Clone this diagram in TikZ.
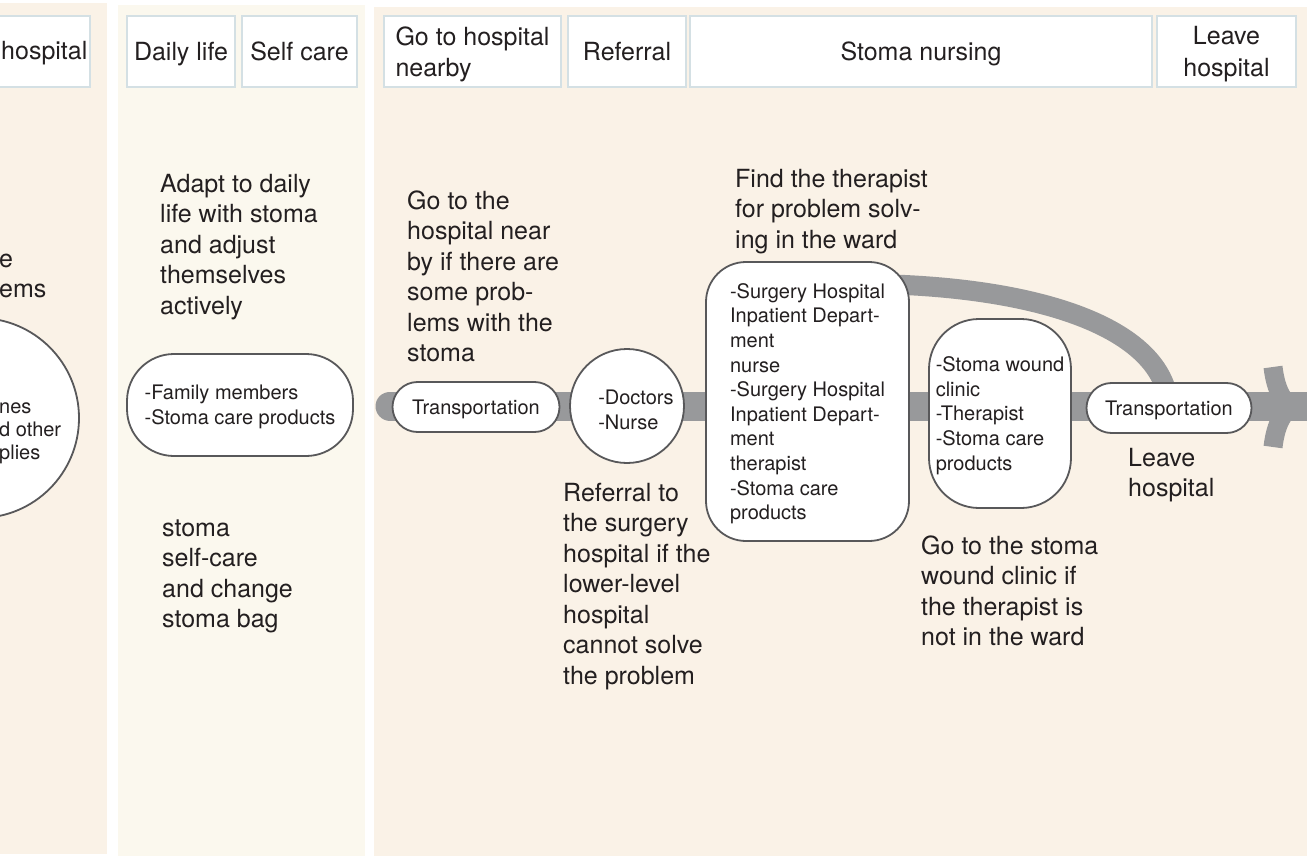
\documentclass[tikz,border=0pt]{standalone}
\usepackage{fontspec}
\setmainfont{TeX Gyre Heros}
\usetikzlibrary{shapes.geometric}

\definecolor{peach}{RGB}{250,242,231}
\definecolor{cream}{RGB}{251,248,238}
\definecolor{hdrline}{RGB}{212,224,228}
\definecolor{nodeline}{RGB}{88,88,90}
\definecolor{bandgray}{RGB}{152,153,155}
\definecolor{inkcol}{RGB}{35,31,32}

\newcommand{\bigtxt}{\fontsize{25}{30.5}\selectfont}
\newcommand{\hdrtxt}{\fontsize{25}{31.5}\selectfont}
\newcommand{\smalltxt}{\fontsize{20}{24.6}\selectfont}

\pgfdeclarelayer{bg}
\pgfsetlayers{bg,main}

\tikzset{
  hdr/.style={draw=hdrline, line width=1.6pt, fill=white, inner sep=0pt,
    minimum height=71, font=\hdrtxt, text=inkcol, text depth=0pt},
  stage/.style={draw=nodeline, line width=1.8pt, fill=white, inner sep=0pt,
    font=\smalltxt, text=inkcol, align=left, text depth=0pt},
  % multi-line paragraphs are placed by the baseline of their last line
  para/.style={anchor=base west, align=left, inner sep=0pt, font=\bigtxt, text=inkcol},
  flow/.style={draw=bandgray, line width=29pt},
  loopflow/.style={draw=bandgray, line width=20pt},
}

\begin{document}
\begin{tikzpicture}[x=1pt,y=-1pt]
\useasboundingbox (0,0) rectangle (1307,856);
\clip (0,0) rectangle (1307,856);

% column backgrounds and the main flow band
\begin{pgfonlayer}{bg}
  \fill[white] (0,0) rectangle (1307,856);
  \fill[peach] (0,3) rectangle (107,854);
  \fill[cream] (118,5) rectangle (365,856);
  \fill[peach] (374,7) rectangle (1307,856);
  \coordinate (bandS) at (390,406);
  \coordinate (bandE) at (1307,406);
  \draw[flow, line cap=round] (bandS) -- (bandE);
  % chevron at the end of the flow
  \draw[draw=bandgray, line width=19pt]
    (1273,367) .. controls (1276,392) and (1284,402) .. (1291,407)
    .. controls (1284,412) and (1276,422) .. (1273,447);
\end{pgfonlayer}

% header boxes
\node[hdr, minimum width=110] (h0) at (35,51.5) {};
\node[anchor=base west, inner sep=0pt, font=\hdrtxt, text=inkcol] (h0t) at (1,60) {hospital};
\node[hdr, minimum width=108] (h1) at (181,51.5) {Daily life};
\node[hdr, minimum width=115] (h2) at (299.5,51.5) {Self care};
\node[hdr, minimum width=177, align=left] (h3) at (472.5,51.5) {Go to hospital\\nearby};
\node[hdr, minimum width=118] (h4) at (627,51.5) {Referral};
\node[hdr, minimum width=462] (h5) at (921,51.5) {Stoma nursing};
\node[hdr, minimum width=139, align=center] (h6) at (1226.5,51.5) {Leave\\hospital};

% first column (cut at the left edge)
\node[para] (p0) at (-1,297.5) {e\\ems};
\node[stage, circle, minimum size=200] (c0) at (-21,418) {};
\node[anchor=base west, align=left, inner sep=0pt, font={\fontsize{20}{23}\selectfont}, text=inkcol] (c0t) at (-1,459) {nes\\d other\\plies};

% daily life / self care
\node[para] (pAdapt) at (160,314) {Adapt to daily\\life with stoma\\and adjust\\themselves\\actively};
\node[stage, rounded corners=47, minimum width=226, minimum height=102] (fam) at (240,405) {-Family members\\-Stoma care products};
\node[para] (pSelf) at (162,627.5) {stoma\\self-care\\and change\\stoma bag};

% hospital stages
\node[para] (pGo) at (407,361.5) {Go to the\\hospital near\\by if there are\\some prob-\\lems with the\\stoma};
\node[stage, rounded corners=25, minimum width=167, minimum height=50] (trans1) at (476,407) {Transportation};

\node[stage, circle, minimum size=114] (doc) at (627,406) {};
\node[align=left, inner sep=0pt, font=\smalltxt, text=inkcol] (docT) at (636,410) {-Doctors\\-Nurse};
\node[para] (pRef) at (563,684) {Referral to\\the surgery\\hospital if the\\lower-level\\hospital\\cannot solve\\the problem};

\node[para] (pFind) at (735,248) {Find the therapist\\for problem solv-\\ing in the ward};

\node[stage, rounded corners=40, minimum width=203, minimum height=279] (surg) at (807.5,401.5)
  {-Surgery Hospital\\Inpatient Depart-\\ment\\nurse\\-Surgery Hospital\\Inpatient Depart-\\ment\\therapist\\-Stoma care\\products};

\node[stage, rounded corners=25, minimum width=165, minimum height=50] (trans2) at (1169,408) {Transportation};

% loop from the ward straight to the exit transport
\begin{pgfonlayer}{bg}
  \draw[loopflow] ([xshift=-30pt,yshift=-23pt]surg.north east)
    .. controls (1045,288) and (1166,330) .. (trans2.center);
\end{pgfonlayer}

\node[stage, rounded corners=50, minimum width=142, minimum height=189] (clinic) at (1000,413.5)
  {-Stoma wound\\clinic\\-Therapist\\-Stoma care\\products};
\node[para] (pClinic) at (921,645.5) {Go to the stoma\\wound clinic if\\the therapist is\\not in the ward};

\node[para] (pLeave) at (1128,496.5) {Leave\\hospital};
\end{tikzpicture}
\end{document}
